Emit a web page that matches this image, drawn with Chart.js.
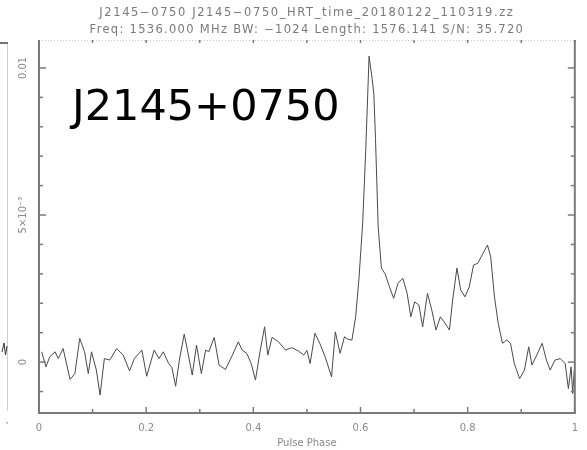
<!DOCTYPE html>
<html>
<head>
<meta charset="utf-8">
<script src="https://cdn.jsdelivr.net/npm/chart.js@4"></script>
<style>
    html, body { margin: 0; padding: 0; background: #fff; }
    #wrap { width: 587px; height: 450px; position: relative; }
</style>
</head>
<body>
<div id="wrap"><canvas id="profile"></canvas></div>
<script>
// Header lines and source name
const headerLines = [
    'J2145\u22120750 J2145\u22120750_HRT_time_20180122_110319.zz',
    'Freq: 1536.000 MHz BW: \u22121024 Length: 1576.141 S/N: 35.720'
];
const sourceName = 'J2145+0750';

// Pulse profile: phase and flux
const phase = [
    0.005, 0.013, 0.020, 0.030, 0.036, 0.045, 0.058, 0.067, 0.076, 0.085,
    0.092, 0.098, 0.107, 0.114, 0.122, 0.132, 0.145, 0.157, 0.169, 0.178,
    0.192, 0.201, 0.215, 0.224, 0.232, 0.242, 0.248, 0.255, 0.262, 0.271,
    0.277, 0.286, 0.294, 0.303, 0.311, 0.317, 0.327, 0.336, 0.348, 0.361,
    0.372, 0.379, 0.388, 0.396, 0.404, 0.413, 0.421, 0.427, 0.435, 0.447,
    0.460, 0.472, 0.484, 0.494, 0.500, 0.506, 0.515, 0.524, 0.534, 0.546,
    0.553, 0.562, 0.570, 0.577, 0.584, 0.591, 0.597, 0.604, 0.610, 0.616,
    0.622, 0.625, 0.628, 0.633, 0.639, 0.646, 0.654, 0.662, 0.670, 0.679,
    0.687, 0.694, 0.701, 0.709, 0.716, 0.725, 0.733, 0.741, 0.749, 0.756,
    0.766, 0.772, 0.780, 0.787, 0.795, 0.803, 0.811, 0.819, 0.827, 0.837,
    0.843, 0.850, 0.857, 0.865, 0.873, 0.880, 0.887, 0.897, 0.906, 0.914,
    0.920, 0.929, 0.939, 0.947, 0.954, 0.963, 0.973, 0.982, 0.988, 0.993,
    0.996, 0.999
];
const flux = [
    0.00035, -0.00016, 0.00018, 0.00035, 0.00012, 0.00046, -0.00059, -0.00039, 0.00081, 0.00035,
    -0.00039, 0.00035, -0.00027, -0.00112, 0.00012, 0.00007, 0.00046, 0.00024, -0.0003, 0.00012,
    0.00041, -0.00048, 0.00041, 0.00012, 0.00035, -0.00005, -0.00018, -0.00082, 0.00007, 0.00095,
    0.00041, -0.00044, 0.00058, -0.00039, 0.00041, 0.00035, 0.00084, -0.0001, -0.00025, 0.00024,
    0.00069, 0.00041, 0.00029, -0.00005, -0.00061, 0.00041, 0.0012, 0.00024, 0.00084, 0.00069,
    0.00041, 0.00049, 0.00038, 0.00024, 0.0004, -0.00005, 0.00098, 0.00064, 0.00018, -0.0005,
    0.00103, 0.0003, 0.00086, 0.00077, 0.00075, 0.00154, 0.0028, 0.0047, 0.0073, 0.0104,
    0.0096, 0.0091, 0.0076, 0.0046, 0.0032, 0.0030, 0.00256, 0.00217, 0.00268, 0.00285,
    0.00234, 0.00154, 0.00205, 0.00194, 0.0012, 0.00234, 0.00177, 0.00109, 0.00154, 0.00137,
    0.00109, 0.00211, 0.0032, 0.00245, 0.00222, 0.00256, 0.0033, 0.00336, 0.00364, 0.00398,
    0.00358, 0.00222, 0.00132, 0.00064, 0.00075, 0.00064, -0.00005, -0.00056, -0.00027, 0.00052,
    -0.0001, 0.00024, 0.00064, 0.00007, -0.00027, 0.00007, 0.00012, -0.00005, -0.0009, -0.00016,
    -0.00107, -0.00027
];

// Axis ticks (every tick gets a mark, only some get a label)
const xTicks = [0, 0.1, 0.2, 0.3, 0.4, 0.5, 0.6, 0.7, 0.8, 0.9, 1];
const xTickLabels = ['0', '', '0.2', '', '0.4', '', '0.6', '', '0.8', '', '1'];
const yTicks = [-0.001, 0, 0.001, 0.002, 0.003, 0.004, 0.005, 0.006, 0.007, 0.008, 0.009, 0.01];
const yTickLabels = ['', '0', '', '', '', '', '5\u00d710\u207b\u00b3', '', '', '', '', '0.01'];

const labelFont = '10px "DejaVu Sans"';
const labelColor = '#8a8a8a';

function stroke(ctx, x1, y1, x2, y2) {
    ctx.beginPath();
    ctx.moveTo(x1, y1);
    ctx.lineTo(x2, y2);
    ctx.stroke();
}

// PGPLOT style box: inward ticks, rotated y labels, header text
const pgBox = {
    id: 'pgBox',
    afterDatasetsDraw(chart) {
        const { ctx, chartArea: a, scales: { x, y } } = chart;
        ctx.save();

        // dotted top edge
        ctx.strokeStyle = '#c4c4c4';
        ctx.lineWidth = 1;
        ctx.setLineDash([1, 2]);
        stroke(ctx, a.left, a.top + 0.5, a.right, a.top + 0.5);
        ctx.setLineDash([]);

        // solid left, bottom, right edges
        ctx.strokeStyle = '#7a7a7a';
        ctx.lineWidth = 2;
        stroke(ctx, a.left, a.top, a.left, a.bottom);
        stroke(ctx, a.left - 1, a.bottom, a.right + 1, a.bottom);
        stroke(ctx, a.right, a.top, a.right, a.bottom);

        ctx.lineWidth = 1.5;
        xTicks.forEach((v, i) => {
            const px = x.getPixelForValue(v);
            const len = xTickLabels[i] ? 6 : 4;
            stroke(ctx, px, a.bottom, px, a.bottom - len);
            stroke(ctx, px, a.top, px, a.top + 3);
        });
        yTicks.forEach((v, i) => {
            const py = y.getPixelForValue(v);
            const len = yTickLabels[i] ? 7 : 4;
            stroke(ctx, a.left, py, a.left + len, py);
            stroke(ctx, a.right, py, a.right - len, py);
        });

        // y labels written along the axis
        ctx.fillStyle = labelColor;
        ctx.font = labelFont;
        ctx.textAlign = 'center';
        ctx.textBaseline = 'middle';
        yTicks.forEach((v, i) => {
            if (!yTickLabels[i]) return;
            ctx.save();
            ctx.translate(a.left - 16, y.getPixelForValue(v));
            ctx.rotate(-Math.PI / 2);
            ctx.fillText(yTickLabels[i], 0, 0);
            ctx.restore();
        });

        // header
        const cx = (a.left + a.right) / 2;
        ctx.font = '11.5px "DejaVu Sans"';
        ctx.fillStyle = '#7a7a7a';
        ctx.letterSpacing = '1.6px';
        ctx.fillText(headerLines[0], cx, 13);
        ctx.letterSpacing = '1.3px';
        ctx.fillText(headerLines[1], cx, 30);
        ctx.letterSpacing = '0px';

        // source name
        ctx.font = '43px "DejaVu Sans"';
        ctx.fillStyle = '#000';
        ctx.textAlign = 'left';
        ctx.textBaseline = 'alphabetic';
        ctx.fillText(sourceName, 72, 120);

        // edge of the neighbouring panel
        ctx.strokeStyle = '#d0d0d0';
        ctx.lineWidth = 1;
        stroke(ctx, 7.5, 43, 7.5, 411);
        ctx.strokeStyle = '#777';
        ctx.lineWidth = 2;
        stroke(ctx, 0, 43, 8, 43);
        ctx.strokeStyle = '#333';
        ctx.lineWidth = 1;
        ctx.beginPath();
        ctx.moveTo(2, 352);
        ctx.lineTo(4, 343);
        ctx.lineTo(5.5, 355);
        ctx.lineTo(7, 346);
        ctx.stroke();
        ctx.fillStyle = '#999';
        ctx.fillRect(6.5, 422, 1.5, 1.5);

        ctx.restore();
    }
};

new Chart(document.getElementById('profile'), {
    type: 'line',
    data: {
        datasets: [{
            data: phase.map((p, i) => ({ x: p, y: flux[i] })),
            borderColor: '#4a4a4a',
            borderWidth: 1,
            pointRadius: 0,
            tension: 0,
            fill: false
        }]
    },
    options: {
        responsive: true,
        maintainAspectRatio: false,
        animation: false,
        layout: { padding: { top: 40, right: 8.5, left: 0, bottom: 0 } },
        plugins: {
            legend: { display: false },
            tooltip: { enabled: false }
        },
        scales: {
            x: {
                type: 'linear',
                min: 0,
                max: 1,
                afterBuildTicks: s => { s.ticks = xTicks.map(v => ({ value: v })); },
                afterFit: s => { s.height = 37; },
                grid: { display: false, drawTicks: false },
                border: { display: false },
                ticks: {
                    autoSkip: false,
                    maxRotation: 0,
                    padding: 9,
                    color: labelColor,
                    font: { family: 'DejaVu Sans', size: 10 },
                    callback: (v, i) => xTickLabels[i]
                },
                title: {
                    display: true,
                    text: 'Pulse Phase',
                    color: labelColor,
                    font: { family: 'DejaVu Sans', size: 10 },
                    padding: { top: 0, bottom: 1 }
                }
            },
            y: {
                type: 'linear',
                min: -0.00173,
                max: 0.01095,
                afterBuildTicks: s => { s.ticks = yTicks.map(v => ({ value: v })); },
                afterFit: s => { s.width = 39; },
                grid: { display: false, drawTicks: false },
                border: { display: false },
                ticks: { display: false }
            }
        }
    },
    plugins: [pgBox]
});
</script>
</body>
</html>
